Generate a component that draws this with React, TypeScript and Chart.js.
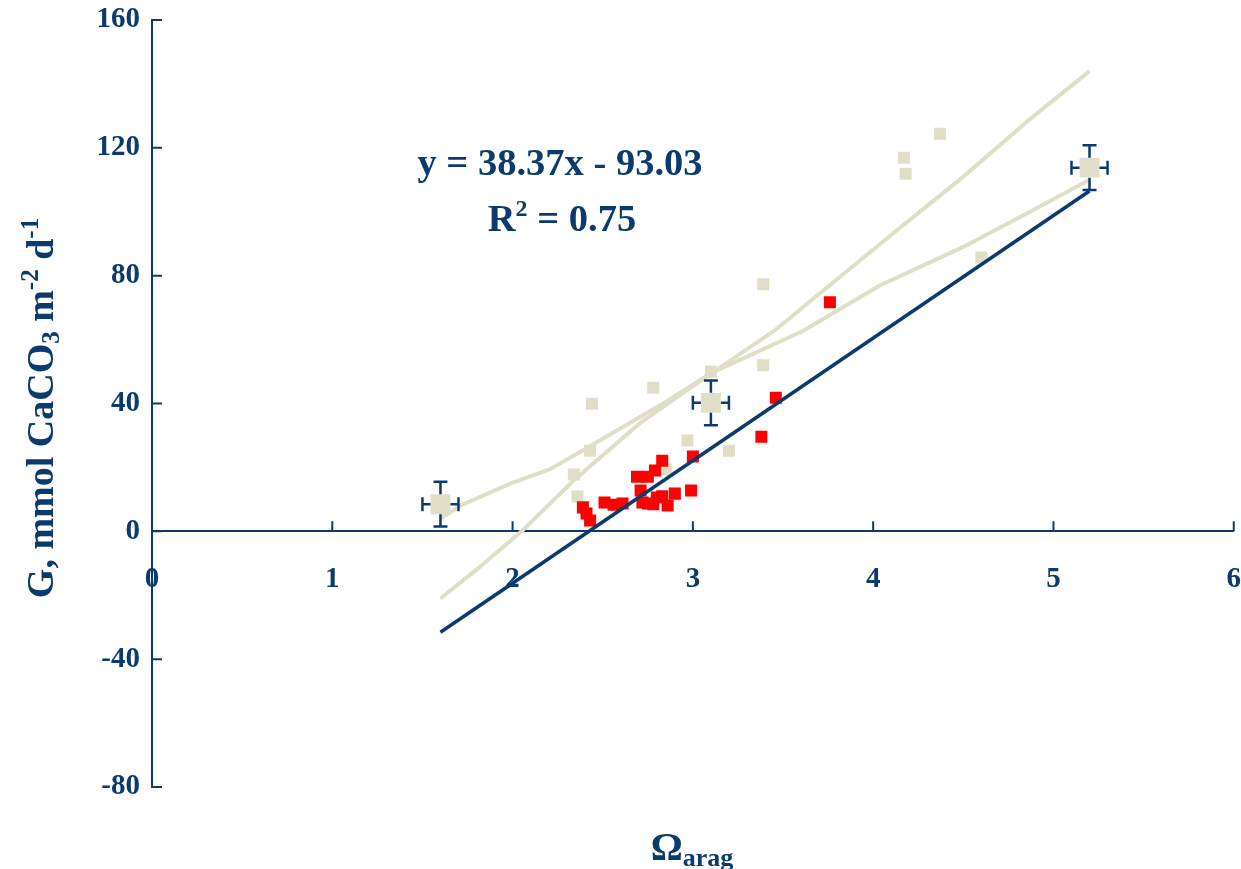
import React, { useEffect, useRef } from "react";
import { Chart, registerables } from "chart.js";

Chart.register(...registerables);

const NAVY = "#0b3a6c";
const BEIGE = "#e0dec6";
const RED = "#ff0000";
const FONT = "'Liberation Serif', 'Times New Roman', 'DejaVu Serif', serif";

// Axis ranges / ticks
const X_MIN = 0;
const X_MAX = 6;
const X_STEP = 1;
const Y_MIN = -80;
const Y_MAX = 160;
const Y_STEP = 40;

// Means with error bars (large beige squares)
const meanX = [1.6, 3.1, 5.2];
const meanY = [8.5, 40.2, 113.8];
const meanXErr = [0.1, 0.1, 0.1];
const meanYErr = [7, 7, 7];

// Small beige squares
const beigeX = [2.34, 2.36, 2.43, 2.44, 2.78, 2.85, 2.97, 3.1, 3.2, 3.39, 3.39, 4.17, 4.18, 4.37, 4.6];
const beigeY = [17.8, 10.9, 25.2, 39.9, 44.9, 19.3, 28.4, 49.9, 25.2, 52.0, 77.3, 116.9, 111.9, 124.4, 85.7];

// Red squares
const redX = [2.39, 2.41, 2.43, 2.51, 2.56, 2.61, 2.69, 2.75, 2.71, 2.72, 2.75, 2.78, 2.8, 2.83, 2.86, 2.79, 2.83, 2.9, 2.99, 3.0, 3.38, 3.46, 3.76];
const redY = [7.5, 5.6, 3.4, 9.0, 8.3, 8.7, 17.1, 17.1, 12.8, 9.0, 8.7, 8.5, 10.6, 11.0, 8.1, 19.0, 22.1, 11.8, 12.8, 23.4, 29.6, 41.8, 71.7];

// Regression line
const fitX = [1.6, 5.2];
const fitY = [-31.6, 106.5];

// Beige curves
const curveAX = [1.6, 1.71, 1.99, 2.21, 2.41, 2.82, 3.1, 3.61, 4.04, 4.5, 4.87, 5.2];
const curveAY = [4, 8, 15, 19.5, 26, 39.5, 49.5, 62.7, 77, 89, 100, 110];
const curveBX = [1.6, 1.8, 2.05, 2.34, 2.71, 3.04, 3.45, 4.04, 4.5, 4.87, 5.2];
const curveBY = [-21, -12, 0, 16, 34, 47, 62.7, 90, 111, 129, 144];

const equationText = "y = 38.37x - 93.03";
const r2Value = "0.75";

const pts = (xs: number[], ys: number[]) => xs.map((x, i) => ({ x, y: ys[i] }));

type Part = { t: string; s: number; dy?: number };

function richWidth(ctx: CanvasRenderingContext2D, parts: Part[]) {
  let w = 0;
  for (const p of parts) {
    ctx.font = `bold ${p.s}px ${FONT}`;
    w += ctx.measureText(p.t).width;
  }
  return w;
}

function drawRich(ctx: CanvasRenderingContext2D, parts: Part[], cx: number, baseline: number) {
  const total = richWidth(ctx, parts);
  let x = cx - total / 2;
  ctx.textAlign = "left";
  ctx.textBaseline = "alphabetic";
  for (const p of parts) {
    ctx.font = `bold ${p.s}px ${FONT}`;
    ctx.fillText(p.t, x, baseline + (p.dy || 0));
    x += ctx.measureText(p.t).width;
  }
}

const overlayPlugin = {
  id: "overlay",
  afterDatasetsDraw(chart: any) {
    const ctx: CanvasRenderingContext2D = chart.ctx;
    const xs = chart.scales.x;
    const ys = chart.scales.y;
    ctx.save();
    ctx.strokeStyle = NAVY;
    ctx.lineWidth = 2.5;
    const half = 10;
    const cap = 7;
    for (let i = 0; i < meanX.length; i++) {
      const cx = xs.getPixelForValue(meanX[i]);
      const cy = ys.getPixelForValue(meanY[i]);
      const xl = xs.getPixelForValue(meanX[i] - meanXErr[i]);
      const xr = xs.getPixelForValue(meanX[i] + meanXErr[i]);
      const yt = ys.getPixelForValue(meanY[i] + meanYErr[i]);
      const yb = ys.getPixelForValue(meanY[i] - meanYErr[i]);
      ctx.beginPath();
      ctx.moveTo(cx, cy - half); ctx.lineTo(cx, yt);
      ctx.moveTo(cx - cap, yt); ctx.lineTo(cx + cap, yt);
      ctx.moveTo(cx, cy + half); ctx.lineTo(cx, yb);
      ctx.moveTo(cx - cap, yb); ctx.lineTo(cx + cap, yb);
      ctx.moveTo(cx - half, cy); ctx.lineTo(xl, cy);
      ctx.moveTo(xl, cy - cap); ctx.lineTo(xl, cy + cap);
      ctx.moveTo(cx + half, cy); ctx.lineTo(xr, cy);
      ctx.moveTo(xr, cy - cap); ctx.lineTo(xr, cy + cap);
      ctx.stroke();
    }
    ctx.restore();
  },
  afterDraw(chart: any) {
    const ctx: CanvasRenderingContext2D = chart.ctx;
    const xs = chart.scales.x;
    const ys = chart.scales.y;
    const x0 = xs.getPixelForValue(0);
    const y0 = ys.getPixelForValue(0);
    ctx.save();
    // inward tick marks
    ctx.strokeStyle = NAVY;
    ctx.lineWidth = 2;
    ctx.beginPath();
    for (const t of xs.ticks) {
      const px = xs.getPixelForValue(t.value);
      ctx.moveTo(px, y0);
      ctx.lineTo(px, y0 - 10);
    }
    for (const t of ys.ticks) {
      const py = ys.getPixelForValue(t.value);
      ctx.moveTo(x0, py);
      ctx.lineTo(x0 + 10, py);
    }
    ctx.stroke();

    ctx.fillStyle = NAVY;
    // equation
    drawRich(ctx, [{ t: equationText, s: 38.5 }], 560, 175);
    drawRich(
      ctx,
      [
        { t: "R", s: 38.5 },
        { t: "2", s: 24, dy: -15 },
        { t: " = " + r2Value, s: 38.5 },
      ],
      562,
      231
    );
    // x title
    drawRich(
      ctx,
      [
        { t: "Ω", s: 40 },
        { t: "arag", s: 26, dy: 6 },
      ],
      692,
      860
    );
    // y title (rotated)
    ctx.translate(53, 408);
    ctx.rotate(-Math.PI / 2);
    drawRich(
      ctx,
      [
        { t: "G, mmol CaCO", s: 38 },
        { t: "3", s: 25, dy: 6 },
        { t: " m", s: 38 },
        { t: "-2", s: 25, dy: -15 },
        { t: " d", s: 38 },
        { t: "-1", s: 25, dy: -15 },
      ],
      0,
      0
    );
    ctx.restore();
  },
};

export default function App() {
  const ref = useRef<HTMLCanvasElement | null>(null);

  useEffect(() => {
    if (!ref.current) return;
    const tickFont = { family: FONT, size: 29, weight: "bold" as const };
    const chart = new Chart(ref.current, {
      type: "scatter",
      data: {
        datasets: [
          {
            label: "Regression",
            data: pts(fitX, fitY),
            showLine: true,
            borderColor: NAVY,
            borderWidth: 3.5,
            pointRadius: 0,
          },
          {
            label: "Red",
            data: pts(redX, redY),
            backgroundColor: RED,
            borderWidth: 0,
            pointStyle: "rect",
            pointRadius: 8.5,
          },
          {
            label: "Means",
            data: pts(meanX, meanY),
            backgroundColor: BEIGE,
            borderWidth: 0,
            pointStyle: "rect",
            pointRadius: 14.1,
          },
          {
            label: "Beige",
            data: pts(beigeX, beigeY),
            backgroundColor: BEIGE,
            borderWidth: 0,
            pointStyle: "rect",
            pointRadius: 8.5,
          },
          {
            label: "Curve A",
            data: pts(curveAX, curveAY),
            showLine: true,
            borderColor: BEIGE,
            borderWidth: 4,
            pointRadius: 0,
          },
          {
            label: "Curve B",
            data: pts(curveBX, curveBY),
            showLine: true,
            borderColor: BEIGE,
            borderWidth: 4,
            pointRadius: 0,
          },
        ],
      },
      options: {
        responsive: false,
        animation: false,
        events: [],
        layout: { autoPadding: false, padding: { left: 12, right: 0, top: 20, bottom: 82 } },
        plugins: {
          legend: { display: false },
          tooltip: { enabled: false },
        },
        scales: {
          x: {
            type: "linear",
            position: { y: 0 } as any,
            min: X_MIN,
            max: X_MAX,
            ticks: { stepSize: X_STEP, color: NAVY, font: tickFont, padding: 0, maxRotation: 0 },
            grid: {
              display: true,
              drawOnChartArea: false,
              drawTicks: true,
              tickLength: 31,
              tickColor: "rgba(0,0,0,0)",
            },
            border: { display: true, color: NAVY, width: 2 },
          },
          y: {
            type: "linear",
            position: "left",
            min: Y_MIN,
            max: Y_MAX,
            ticks: { stepSize: Y_STEP, color: NAVY, font: tickFont, padding: 0 },
            grid: {
              display: true,
              drawOnChartArea: false,
              drawTicks: true,
              tickLength: 12,
              tickColor: "rgba(0,0,0,0)",
            },
            border: { display: true, color: NAVY, width: 2 },
            afterFit: (s: any) => {
              s.width = 140;
            },
          },
        },
      },
      plugins: [overlayPlugin],
    });
    return () => chart.destroy();
  }, []);

  return (
    <div style={{ position: "absolute", left: 0, top: 0, width: 1241, height: 869, background: "#fff" }}>
      <canvas ref={ref} width={1241} height={869} style={{ display: "block" }} />
    </div>
  );
}
